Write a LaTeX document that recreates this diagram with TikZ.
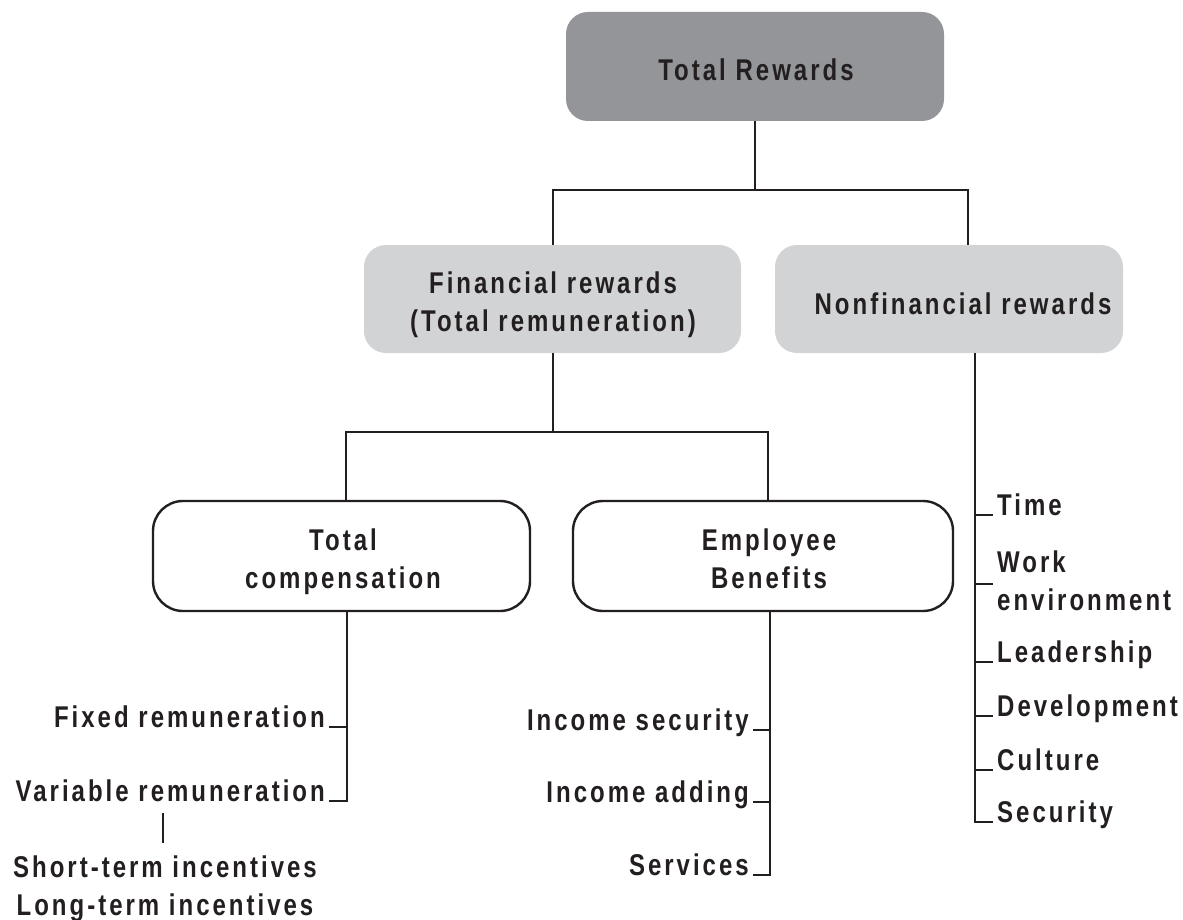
\documentclass[tikz,border=0pt]{standalone}
\usepackage{fontspec}
\newfontfamily\lblfont{Liberation Sans}[FakeStretch=0.8,LetterSpace=10]
\definecolor{dk}{HTML}{231F20}
\definecolor{gA}{HTML}{939598}
\definecolor{gB}{HTML}{D1D3D4}
\tikzset{
  txt/.style={font={\lblfont\bfseries\fontsize{30}{38}\selectfont}, text=dk, inner sep=0pt},
  gbox/.style={rounded corners=22, inner sep=0pt, draw=none},
  wbox/.style={rounded corners=30, inner sep=0pt, draw=dk, fill=white, line width=2.4},
  conn/.style={draw=dk, line width=2.4},
}
\begin{document}
\begin{tikzpicture}[x=1pt,y=-1pt]
\fill[white] (0,0) rectangle (1183,920);
\useasboundingbox (0,0) rectangle (1183,920);
% boxes
\node[gbox, fill=gA, minimum width=378, minimum height=109] (tr) at (755,66.5) {};
\node[txt, anchor=base] (trt) at (756,81) {Total Rewards};
\node[gbox, fill=gB, minimum width=377, minimum height=108] (fin) at (552.5,299) {};
\node[txt, align=center] (fint) at (553,305) {Financial rewards\\(Total remuneration)};
\node[gbox, fill=gB, minimum width=348, minimum height=108] (nf) at (949,299) {};
\node[txt, anchor=base] (nft) at (963,314) {Nonfinancial rewards};
\node[wbox, minimum width=377, minimum height=110] (tc) at (341.5,556) {};
\node[txt, align=center] (tct) at (343,562) {Total\\compensation};
\node[wbox, minimum width=380, minimum height=110] (eb) at (763,556) {};
\node[txt, align=center] (ebt) at (769,559) {Employee\\Benefits};
% connectors top
\draw[conn] (tr.south) -- ++(0,69) coordinate (j1);
\draw[conn] ([xshift=0.5]fin.north) |- (j1) -| ([xshift=19]nf.north);
\draw[conn] ([xshift=0.5]fin.south) -- ++(0,79) coordinate (j2);
\draw[conn] ([xshift=4.5]tc.north) |- (j2) -| ([xshift=5]eb.north);
% left list
\node[txt, anchor=base east] (fr) at (325,727) {Fixed remuneration};
\node[txt, anchor=base east] (vr) at (325,801) {Variable remuneration};
\node[txt, align=center] (inc) at (165,889) {Short-term incentives\\Long-term incentives};
\coordinate (tcx) at ([xshift=5.5]tc.south);
\draw[conn] (tcx) |- ([xshift=4]vr.base east);
\draw[conn] ([xshift=4]fr.base east) -- (fr.base east -| tcx);
\draw[conn] ([xshift=-2,yshift=13]inc.north) -- ++(0,-30);
% middle list
\node[txt, anchor=base east] (isec) at (749,730) {Income security};
\node[txt, anchor=base east] (iadd) at (749,802) {Income adding};
\node[txt, anchor=base east] (serv) at (749,875) {Services};
\coordinate (ebx) at ([xshift=7]eb.south);
\draw[conn] (ebx) |- ([xshift=4]serv.base east);
\draw[conn] ([xshift=4]isec.base east) -- (isec.base east -| ebx);
\draw[conn] ([xshift=4]iadd.base east) -- (iadd.base east -| ebx);
% right list
\node[txt, anchor=base west] (time) at (997,515) {Time};
\node[txt, anchor=west, align=left] (we) at (997,581) {Work\\environment};
\node[txt, anchor=base west] (lead) at (997,662) {Leadership};
\node[txt, anchor=base west] (dev) at (997,716) {Development};
\node[txt, anchor=base west] (cult) at (997,770) {Culture};
\node[txt, anchor=base west] (sec) at (997,822) {Security};
\coordinate (nfx) at ([xshift=26]nf.south);
\draw[conn] (nfx) |- ([xshift=-4]sec.base west);
\draw[conn] ([xshift=-4]time.base west) -- (time.base west -| nfx);
\draw[conn] ([xshift=-4,yshift=-3]we.west) -- ([yshift=-3]we.west -| nfx);
\draw[conn] ([xshift=-4]lead.base west) -- (lead.base west -| nfx);
\draw[conn] ([xshift=-4]dev.base west) -- (dev.base west -| nfx);
\draw[conn] ([xshift=-4]cult.base west) -- (cult.base west -| nfx);
\end{tikzpicture}
\end{document}
